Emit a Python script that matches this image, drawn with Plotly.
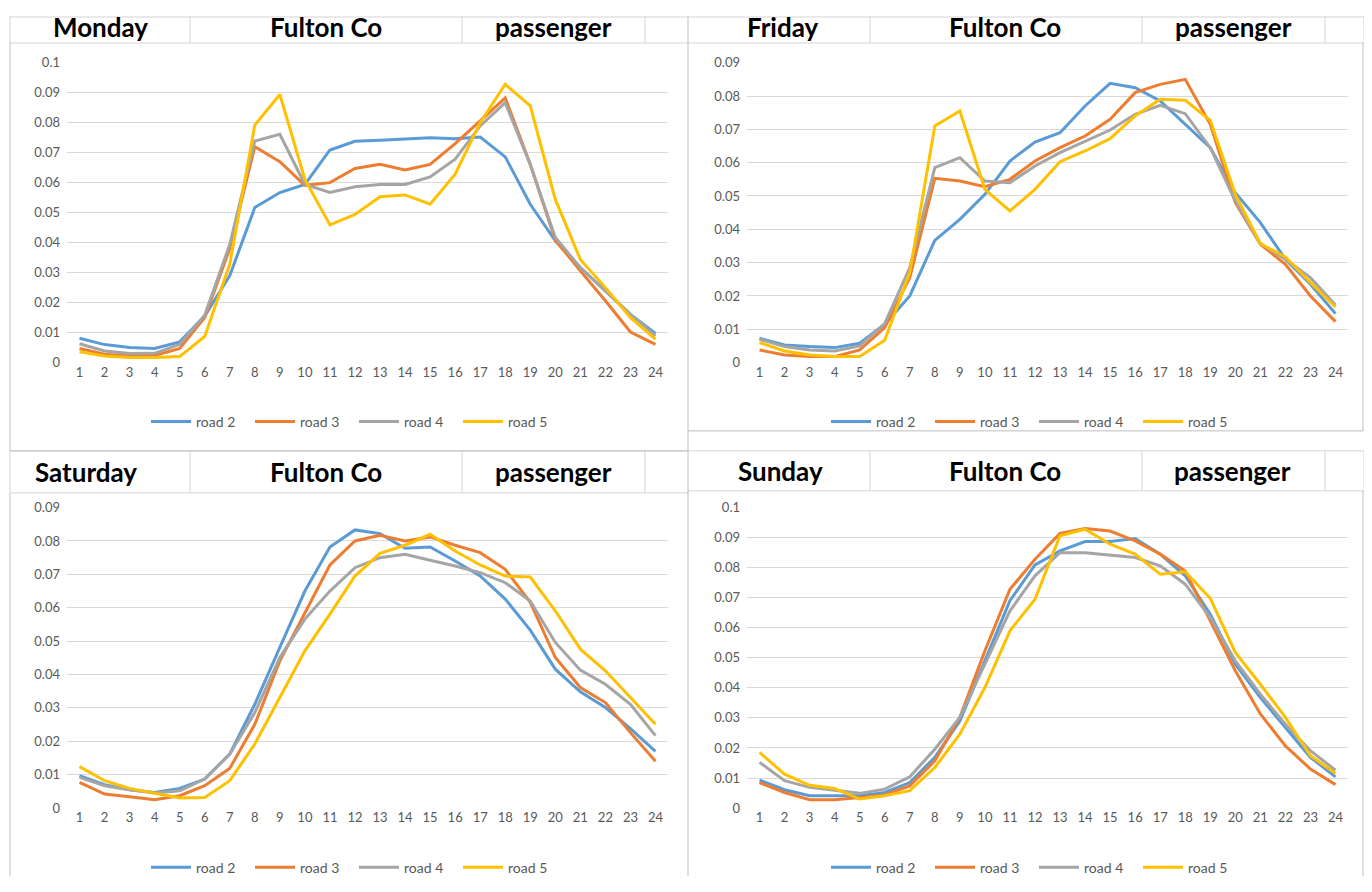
import plotly.graph_objects as go

hours = list(range(1, 25))
series_names = ["road 2", "road 3", "road 4", "road 5"]
series_colors = ["#5B9BD5", "#ED7D31", "#A5A5A5", "#FFC000"]

mon_road2 = [0.0081,0.0060,0.0050,0.0047,0.0069,0.0155,0.0290,0.0517,0.0567,0.0594,0.0709,0.0738,0.0741,0.0746,0.0750,0.0746,0.0752,0.0686,0.0528,0.0406,0.0317,0.0239,0.0161,0.0097]
mon_road3 = [0.0047,0.0028,0.0022,0.0024,0.0047,0.0150,0.0380,0.0720,0.0670,0.0591,0.0600,0.0647,0.0661,0.0642,0.0661,0.0730,0.0806,0.0883,0.0661,0.0408,0.0306,0.0206,0.0102,0.0061]
mon_road4 = [0.0063,0.0039,0.0030,0.0031,0.0061,0.0158,0.0394,0.0739,0.0761,0.0594,0.0567,0.0586,0.0594,0.0594,0.0619,0.0678,0.0789,0.0867,0.0660,0.0417,0.0317,0.0239,0.0161,0.0089]
mon_road5 = [0.0036,0.0022,0.0017,0.0017,0.0020,0.0087,0.0328,0.0792,0.0894,0.0611,0.0459,0.0494,0.0553,0.0559,0.0528,0.0628,0.0800,0.0928,0.0856,0.0544,0.0344,0.0250,0.0150,0.0078]

fri_road2 = [0.0073,0.0053,0.0048,0.0045,0.0058,0.0115,0.0200,0.0367,0.0430,0.0505,0.0605,0.0662,0.0690,0.0770,0.0838,0.0825,0.0785,0.0715,0.0645,0.0510,0.0420,0.0310,0.0235,0.0147]
fri_road3 = [0.0038,0.0023,0.0018,0.0018,0.0038,0.0105,0.0255,0.0553,0.0545,0.0528,0.0550,0.0605,0.0645,0.0680,0.0730,0.0810,0.0835,0.0850,0.0715,0.0480,0.0355,0.0295,0.0200,0.0123]
fri_road4 = [0.0070,0.0048,0.0038,0.0035,0.0050,0.0117,0.0285,0.0585,0.0615,0.0545,0.0540,0.0590,0.0630,0.0665,0.0698,0.0745,0.0772,0.0747,0.0645,0.0485,0.0357,0.0310,0.0255,0.0173]
fri_road5 = [0.0060,0.0035,0.0023,0.0018,0.0018,0.0067,0.0270,0.0710,0.0755,0.0520,0.0455,0.0520,0.0603,0.0635,0.0672,0.0740,0.0790,0.0787,0.0727,0.0505,0.0357,0.0317,0.0240,0.0167]

sat_road2 = [0.0097,0.0070,0.0055,0.0047,0.0059,0.0087,0.0162,0.0311,0.0481,0.0650,0.0782,0.0833,0.0822,0.0778,0.0782,0.0740,0.0695,0.0626,0.0533,0.0416,0.0348,0.0301,0.0238,0.0170]
sat_road3 = [0.0077,0.0042,0.0034,0.0025,0.0037,0.0067,0.0119,0.0251,0.0441,0.0586,0.0728,0.0800,0.0817,0.0800,0.0812,0.0787,0.0765,0.0715,0.0616,0.0451,0.0361,0.0316,0.0226,0.0140]
sat_road4 = [0.0092,0.0067,0.0055,0.0045,0.0052,0.0087,0.0162,0.0286,0.0451,0.0566,0.0650,0.0720,0.0750,0.0760,0.0742,0.0725,0.0705,0.0675,0.0620,0.0496,0.0413,0.0371,0.0311,0.0217]
sat_road5 = [0.0124,0.0082,0.0059,0.0044,0.0030,0.0032,0.0082,0.0192,0.0331,0.0471,0.0581,0.0695,0.0763,0.0787,0.0820,0.0770,0.0728,0.0695,0.0692,0.0591,0.0476,0.0411,0.0331,0.0251]

sun_road2 = [0.0093,0.0061,0.0041,0.0041,0.0041,0.0052,0.0085,0.0169,0.0290,0.0490,0.0690,0.0809,0.0856,0.0887,0.0887,0.0897,0.0845,0.0773,0.0645,0.0479,0.0368,0.0268,0.0169,0.0104]
sun_road3 = [0.0085,0.0052,0.0028,0.0028,0.0035,0.0044,0.0074,0.0157,0.0302,0.0523,0.0728,0.0828,0.0914,0.0930,0.0922,0.0889,0.0845,0.0789,0.0623,0.0457,0.0313,0.0207,0.0130,0.0078]
sun_road4 = [0.0152,0.0091,0.0069,0.0060,0.0049,0.0063,0.0104,0.0196,0.0302,0.0479,0.0656,0.0773,0.0850,0.0850,0.0843,0.0834,0.0806,0.0745,0.0634,0.0490,0.0379,0.0279,0.0191,0.0126]
sun_road5 = [0.0185,0.0113,0.0076,0.0065,0.0030,0.0041,0.0058,0.0135,0.0246,0.0401,0.0590,0.0695,0.0906,0.0928,0.0878,0.0845,0.0778,0.0786,0.0698,0.0518,0.0412,0.0302,0.0174,0.0115]

days = ["Monday", "Friday", "Saturday", "Sunday"]
region = "Fulton Co"
vehicle = "passenger"
panel_series = [
    [mon_road2, mon_road3, mon_road4, mon_road5],
    [fri_road2, fri_road3, fri_road4, fri_road5],
    [sat_road2, sat_road3, sat_road4, sat_road5],
    [sun_road2, sun_road3, sun_road4, sun_road5],
]
panel_ymax = [0.1, 0.09, 0.09, 0.1]

# Figure size and mapping from window pixels to paper fractions
OX = 8
W, H = 1356, 876
VOFF, VSCALE = 15.0, 0.982
def px(x):
    return (x - OX) / W
def py(y):
    fy = (y - VOFF) / VSCALE
    fy = min(max(fy, 0), H)
    return 1 - fy / H

boxes = [
    (67, 668, 61.7, 361.7),
    (747, 1348, 61.7, 361.7),
    (67, 668, 506.7, 807.3),
    (747, 1348, 506.7, 807.3),
]
legend_pos = [(152, 421), (832, 421), (152, 867), (832, 867)]

fig = go.Figure()
FONT = "Lato, 'Open Sans', sans-serif"
TICKC = "#595959"
GRID = "#D9D9D9"

layout = dict(
    width=W, height=H,
    margin=dict(l=0, r=0, t=0, b=0),
    paper_bgcolor="white", plot_bgcolor="white",
    showlegend=True,
)

for i in range(4):
    sfx = "" if i == 0 else str(i + 1)
    l, r, t, b = boxes[i]
    ymax = panel_ymax[i]
    nt = int(round(ymax / 0.01))
    yvals = [k * 0.01 for k in range(nt + 1)]
    ytext = ["0"] + ["%g" % round(v, 2) for v in yvals[1:]]
    layout["xaxis" + sfx] = dict(
        domain=[px(l), px(r)], anchor="y" + sfx, range=[0.5, 24.5],
        tickmode="array", tickvals=hours, ticktext=[str(h) for h in hours],
        showgrid=False, zeroline=False, showline=False, ticks="",
        tickfont=dict(family=FONT, size=13, color=TICKC), fixedrange=True,
    )
    layout["yaxis" + sfx] = dict(
        domain=[py(b), py(t)], anchor="x" + sfx, range=[0, ymax],
        tickmode="array", tickvals=yvals, ticktext=ytext,
        showgrid=True, gridcolor=GRID, gridwidth=1, zeroline=False,
        showline=False, ticks="", ticklabelstandoff=6,
        tickfont=dict(family=FONT, size=13, color=TICKC), fixedrange=True,
    )
    lg = "legend" if i == 0 else "legend" + str(i + 1)
    lx, ly = legend_pos[i]
    layout[lg] = dict(
        orientation="h", x=px(lx - 6), y=py(ly), xanchor="left", yanchor="middle",
        font=dict(family=FONT, size=14, color=TICKC), bgcolor="rgba(0,0,0,0)",
        itemwidth=40, entrywidth=49, entrywidthmode="pixels", tracegroupgap=0,
    )
    for j in range(4):
        fig.add_trace(go.Scatter(
            x=hours, y=panel_series[i][j], mode="lines", name=series_names[j],
            line=dict(color=series_colors[j], width=3),
            xaxis="x" + sfx, yaxis="y" + sfx, legend=lg, showlegend=True,
        ))

fig.update_layout(**layout)

CELL = "#D4D4D4"
FRAME = "#BFBFBF"
shapes = []
def line(x0, y0, x1, y1, color=CELL, w=1):
    shapes.append(dict(type="line", xref="paper", yref="paper",
                       x0=px(x0), y0=py(y0), x1=px(x1), y1=py(y1),
                       line=dict(color=color, width=w), layer="below"))

headers = [
    (10, 42, [10, 190, 462, 645, 688]),
    (8, 42, [688, 870, 1142, 1325, 1364]),
    (450, 492, [10, 190, 462, 645, 688]),
    (450, 490, [688, 870, 1142, 1325, 1364]),
]
for top, bot, xs in headers:
    line(xs[0], max(top, 16), xs[-1], max(top, 16))
    line(xs[0], bot, xs[-1], bot)
    for xv in xs:
        line(xv, top, xv, bot)

line(10, 42, 10, 450, FRAME)
line(688, 42, 688, 450, FRAME)
line(10, 450, 688, 450, FRAME)
line(1363, 42, 1363, 430, FRAME)
line(688, 430, 1363, 430, FRAME)
line(10, 492, 10, 892, FRAME)
line(688, 490, 688, 892, FRAME)
line(1363, 490, 1363, 892, FRAME)

annotations = []
title_centers = [
    [(100, 26), (326, 26), (553, 26)],
    [(783, 26), (1005, 26), (1233, 26)],
    [(86, 471), (326, 471), (553, 471)],
    [(780, 470), (1005, 470), (1232, 470)],
]
for i in range(4):
    texts = [days[i], region, vehicle]
    for (cx, cy), txt in zip(title_centers[i], texts):
        annotations.append(dict(
            text="<b>%s</b>" % txt, xref="paper", yref="paper",
            x=px(cx), y=py(cy), xanchor="center", yanchor="middle",
            showarrow=False, font=dict(family=FONT, size=26, color="#000000"),
        ))

fig.update_layout(shapes=shapes, annotations=annotations)
fig.write_html("out.html")
